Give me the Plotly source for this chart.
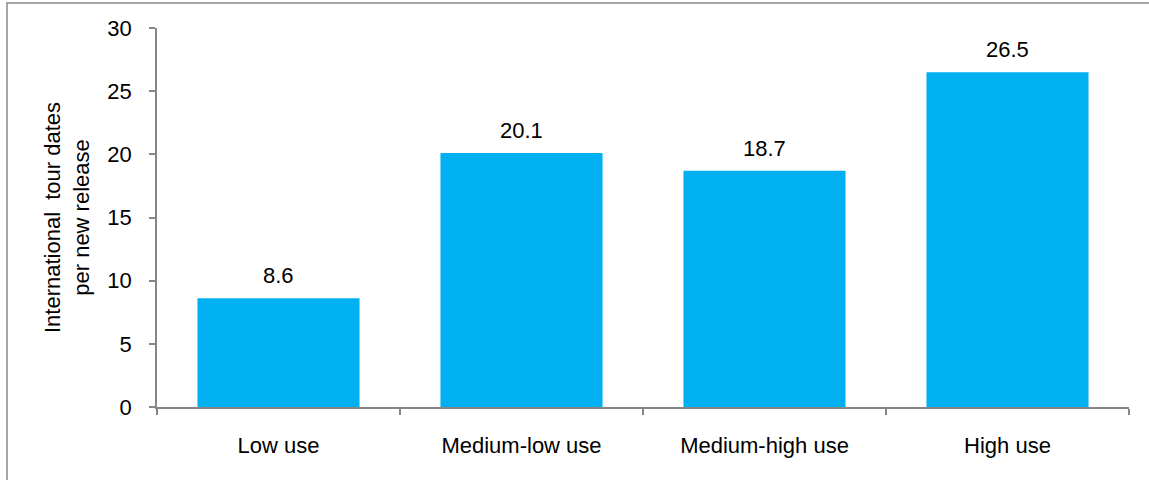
import plotly.graph_objects as go

categories = ["Low use", "Medium-low use", "Medium-high use", "High use"]
tour_dates = [8.6, 20.1, 18.7, 26.5]
y_ticks = [0, 5, 10, 15, 20, 25, 30]

FONT = "Liberation Sans, Arial, sans-serif"
FS = 22
AXIS_GREY = "#868686"

fig = go.Figure(
    go.Bar(
        x=categories,
        y=tour_dates,
        marker=dict(color="#00B0F0", line=dict(width=0)),
        hoverinfo="x+y",
    )
)

# value labels sitting above each bar
for cat, val in zip(categories, tour_dates):
    fig.add_annotation(
        x=cat, y=val, text=f"{val:.1f}", showarrow=False,
        yanchor="bottom", yshift=8,
        font=dict(family=FONT, size=FS, color="#000000"),
    )

W, H = 1149, 480
ml, mr, mt, mb = 157, 20, 28, 73
pw, ph = W - ml - mr, H - mt - mb

# outer frame around the chart (left and top edges visible)
fig.add_shape(
    type="rect", xref="paper", yref="paper",
    x0=(7 - ml) / pw, x1=(W + 5 - ml) / pw,
    y0=-(H + 5 - (H - mb)) / ph, y1=1 + (mt - 3) / ph,
    line=dict(color="#8a8a8a", width=1.5), fillcolor="rgba(0,0,0,0)",
    layer="below",
)

fig.update_layout(
    width=W, height=H,
    margin=dict(l=ml, r=mr, t=mt, b=mb),
    paper_bgcolor="white", plot_bgcolor="white",
    bargap=0.333,
    showlegend=False,
    font=dict(family=FONT, size=FS, color="#000000"),
    xaxis=dict(
        type="category",
        tickson="boundaries",
        ticks="outside", ticklen=6, tickcolor=AXIS_GREY, tickwidth=1.5,
        ticklabelstandoff=18,
        showline=True, linecolor=AXIS_GREY, linewidth=1.5,
        showgrid=False,
        tickfont=dict(family=FONT, size=FS),
    ),
    yaxis=dict(
        range=[0, 30],
        tickvals=y_ticks,
        ticks="outside", ticklen=6, tickcolor=AXIS_GREY, tickwidth=1.5,
        ticklabelstandoff=13,
        showline=True, linecolor=AXIS_GREY, linewidth=1.5,
        showgrid=False, zeroline=False,
        tickfont=dict(family=FONT, size=FS),
        title=dict(
            text="International  tour dates<br>per new release",
            font=dict(family=FONT, size=FS),
            standoff=12,
        ),
    ),
)

fig.write_html("out.html")
